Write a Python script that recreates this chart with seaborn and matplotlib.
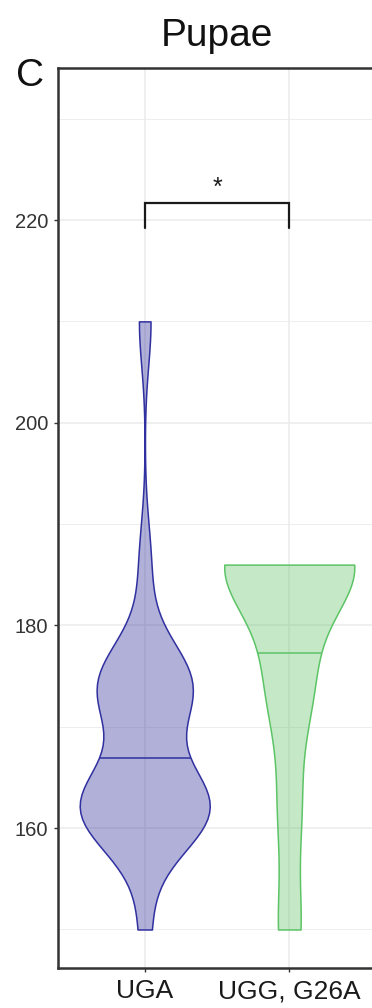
import numpy as np
import pandas as pd
import matplotlib
matplotlib.use("Agg")
import matplotlib.pyplot as plt
from matplotlib.ticker import FixedLocator
import seaborn as sns

# Time to pupation (hours) per individual, by genotype
groups = ["UGA", "UGG, G26A"]
uga_values = [150,
              162, 162, 162, 162, 162, 162, 162, 162, 162, 162, 162,
              174, 174, 174, 174, 174, 174, 174, 174,
              186,
              210]
ugg_g26a_values = [150,
                   162,
                   174, 174,
                   186, 186, 186, 186, 186, 186]

line_colors = ["#3030a0", "#5cc466"]
fill_colors = ["#3a3a9e", "#6ec875"]
y_major = [160, 180, 200, 220]
y_minor = [150, 170, 190, 210, 230]
title_text = "Pupae"
panel_label = "C"
signif_label = "*"

df = pd.DataFrame({
    "group": [groups[0]] * len(uga_values) + [groups[1]] * len(ugg_g26a_values),
    "value": uga_values + ugg_g26a_values,
})


def nrd0(kde):
    """Silverman's rule of thumb (R's bw.nrd0), expressed as a scipy factor."""
    x = np.asarray(kde.dataset).ravel()
    sd = np.std(x, ddof=1)
    q75, q25 = np.percentile(x, [75, 25])
    lo = min(sd, (q75 - q25) / 1.34)
    h = 0.9 * lo * x.size ** -0.2
    return h / sd


sns.set_theme(style="white")
plt.rcParams["font.family"] = ["Liberation Sans", "DejaVu Sans"]

fig = plt.figure(figsize=(3.72, 10.08), dpi=100)
ax = fig.add_axes([58 / 372, 40 / 1008, (376 - 58) / 372, (968 - 68) / 1008])

sns.violinplot(data=df, x="group", y="value", hue="group", order=groups,
               hue_order=groups, palette=fill_colors, legend=False,
               inner=None, cut=0, bw_method=nrd0, density_norm="width",
               width=0.9, saturation=1, linewidth=1.1, ax=ax)

for i, coll in enumerate(list(ax.collections)):
    fc = matplotlib.colors.to_rgb(fill_colors[i])
    coll.set_facecolor((*fc, 0.4))
    coll.set_edgecolor(line_colors[i])
    coll.set_linewidth(1.1)
    coll.set_zorder(3)
    # median of the estimated density, drawn across the violin
    v = coll.get_paths()[0].vertices
    right = v[v[:, 0] > i + 1e-9]
    order = np.argsort(right[:, 1])
    yy, idx = np.unique(right[order, 1], return_index=True)
    ww = right[order, 0][idx] - i
    cum = np.concatenate([[0], np.cumsum(0.5 * (ww[1:] + ww[:-1]) * np.diff(yy))])
    ymed = np.interp(0.5 * cum[-1], cum, yy)
    wmed = np.interp(ymed, yy, ww)
    ax.plot([i - wmed, i + wmed], [ymed, ymed], color=line_colors[i],
            lw=1.1, zorder=4, solid_capstyle="butt")

ax.set_xlim(-0.6, 1.6)
ax.set_ylim(146.2, 235.0)
ax.yaxis.set_major_locator(FixedLocator(y_major))
ax.yaxis.set_minor_locator(FixedLocator(y_minor))
ax.set_xlabel("")
ax.set_ylabel("")

ax.set_axisbelow(True)
ax.grid(which="major", axis="both", color="#ebebeb", lw=1.1)
ax.grid(which="minor", axis="y", color="#ebebeb", lw=0.6)

for side in ["left", "top", "bottom", "right"]:
    ax.spines[side].set_visible(True)
    ax.spines[side].set_color("#333333")
    ax.spines[side].set_linewidth(1.8)

ax.tick_params(axis="y", which="major", left=True, length=3, width=1,
               color="#333333", labelsize=14.5, labelcolor="#333333", pad=4)
ax.tick_params(axis="y", which="minor", left=False)
ax.tick_params(axis="x", which="major", bottom=True, length=3, width=1,
               color="#333333", labelsize=19, labelcolor="#1a1a1a", pad=5)

# significance bracket
y_low, y_high = 219.2, 221.7
ax.plot([0, 0, 1, 1], [y_low, y_high, y_high, y_low], color="#1a1a1a",
        lw=1.6, zorder=5, solid_joinstyle="miter")
ax.text(0.5, 223.2, signif_label, ha="center", va="center", fontsize=18,
        color="#1a1a1a")

ax.set_title(title_text, fontsize=28, pad=16, color="#111111")
fig.text(16 / 372, 1 - 58 / 1008, panel_label, fontsize=28, ha="left",
         va="top", color="#111111")

fig.savefig("out.png", dpi=100)
